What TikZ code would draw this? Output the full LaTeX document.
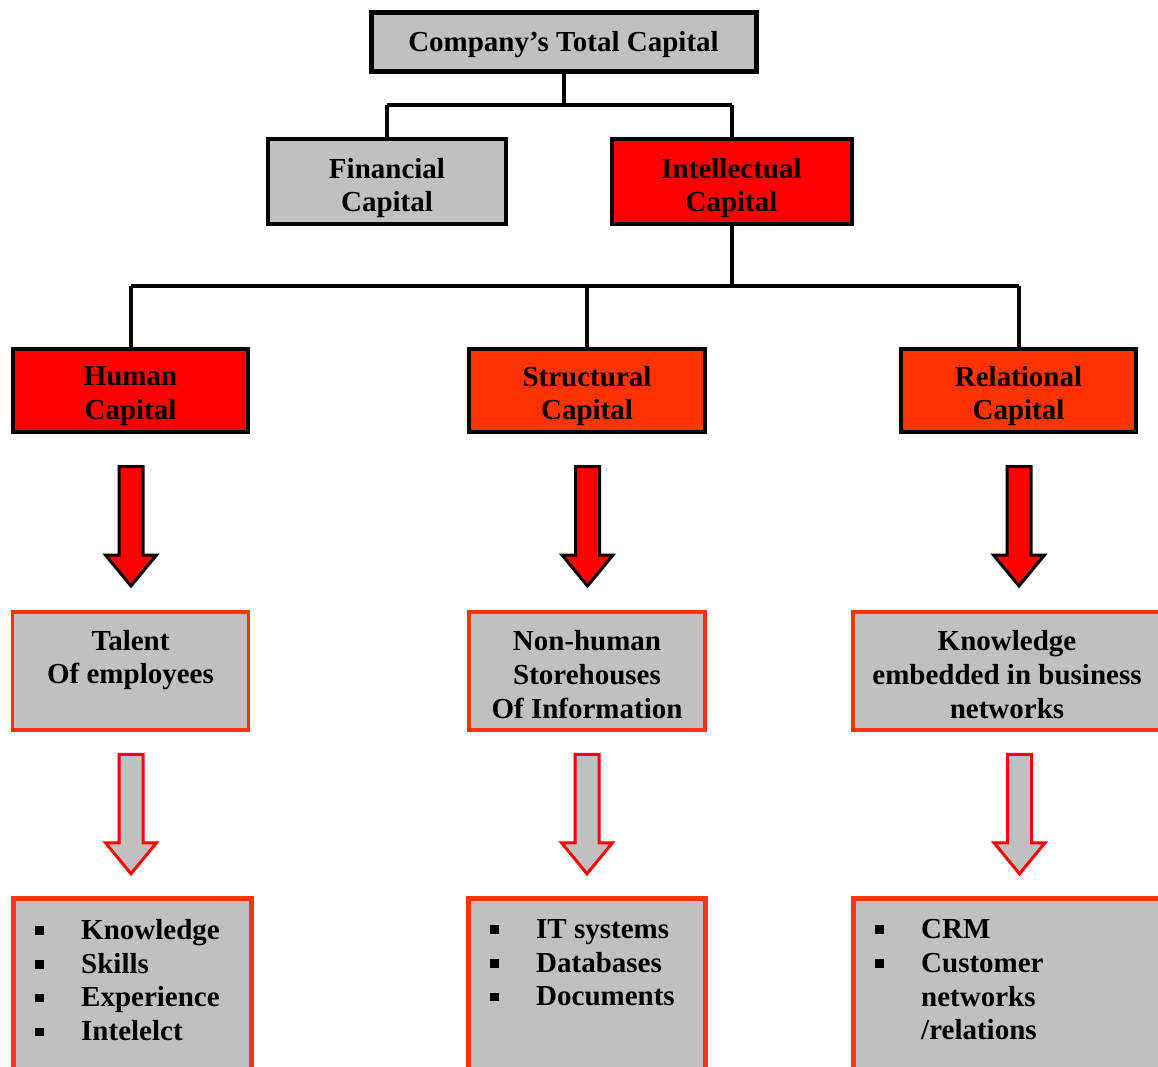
\documentclass[tikz,border=0pt]{standalone}
\usepackage{fontspec}
\setmainfont{Liberation Serif}
\usetikzlibrary{calc}

\definecolor{capgray}{HTML}{C0C0C0}
\definecolor{capred}{HTML}{FF0000}
\definecolor{caporange}{HTML}{FF3300}

% square bullet and list lines
\newcommand{\sqbullet}{\rule[4.5pt]{8.5pt}{8.5pt}}
\newcommand{\itemline}[1]{\makebox[46pt][l]{\sqbullet}#1}
\newcommand{\contline}[1]{\makebox[46pt][l]{}#1}

\begin{document}
\begin{tikzpicture}[x=1pt,y=-1pt,
  every node/.style={font=\fontsize{29}{33.6}\selectfont\bfseries, inner sep=0pt, text=black},
  blackbox/.style={draw=black, rectangle, line width=4pt},
  graybox/.style={blackbox, fill=capgray},
  redbox/.style={blackbox, fill=capred},
  orangebox/.style={blackbox, fill=caporange},
  midbox/.style={rectangle, draw=caporange, fill=capgray, line width=3.5pt, minimum height=118pt},
  listbox/.style={rectangle, draw=caporange, fill=capgray, line width=5pt, minimum height=180pt},
  boxtext/.style={align=center},
  listtext/.style={align=left, anchor=north west, font=\fontsize{29}{33.8}\selectfont\bfseries},
  link/.style={draw=black, line width=4pt},
  pics/downarrow/.style={code={
    \path[pic actions] (-12,0) -- (12,0) -- (12,88.5) -- (25.5,88.5) -- (0,119.5)
      -- (-25.5,88.5) -- (-12,88.5) -- cycle;}},
  redarrow/.style={fill=capred, draw=black, line width=3pt, line join=miter},
  grayarrow/.style={fill=capgray, draw=capred, line width=3pt, line join=miter},
]
\useasboundingbox (0,0) rectangle (1158,1066);

% top level
\node[graybox, line width=5pt, minimum width=385pt, minimum height=59pt] (total) at (563.5,42) {};
\node[boxtext] (totalt) at ($(total.center)+(0,3)$) {Company’s Total Capital};

% second level
\node[graybox, minimum width=238pt, minimum height=85pt] (fin) at (387,181.5) {};
\node[redbox, minimum width=240pt, minimum height=85pt] (intel) at (731.5,181.5) {};
\node[boxtext] (fint) at ($(fin.center)+(0,6.5)$) {Financial\\Capital};
\node[boxtext] (intelt) at ($(intel.center)+(0,6.5)$) {Intellectual\\Capital};

% third level
\node[redbox, minimum width=235pt, minimum height=83pt] (hum) at (130.5,390.5) {};
\node[orangebox, minimum width=236pt, minimum height=83pt] (struc) at (587,390.5) {};
\node[orangebox, minimum width=235pt, minimum height=83pt] (rel) at (1018.5,390.5) {};
\node[boxtext] (humt) at ($(hum.center)+(0,5.5)$) {Human\\Capital};
\node[boxtext] (struct) at ($(struc.center)+(0,5.5)$) {Structural\\Capital};
\node[boxtext] (relt) at ($(rel.center)+(0,5.5)$) {Relational\\Capital};

% descriptions
\node[midbox, minimum width=236pt] (talent) at (130.5,671) {};
\node[midbox, minimum width=236pt] (nonhum) at (587,671) {};
\node[midbox, minimum width=308pt] (knowl) at (1007,671) {};
\node[boxtext] (talentt) at ($(talent.center)+(0,-11)$) {Talent\\Of employees};
\node[boxtext] (nonhumt) at ($(nonhum.center)+(0,3.5)$) {Non-human\\Storehouses\\Of Information};
\node[boxtext] (knowlt) at ($(knowl.center)+(0,3.5)$) {Knowledge\\embedded in business\\networks};

% item boxes
\node[listbox, minimum width=238pt] (hlist) at (132.5,988) {};
\node[listbox, minimum width=237pt] (slist) at (587,988) {};
\node[listbox, minimum width=307pt] (rlist) at (1007,988) {};

\node[listtext] (htext) at (35,919) {\itemline{Knowledge}\\\itemline{Skills}\\\itemline{Experience}\\\itemline{Intelelct}};
\node[listtext] (stext) at (490,919) {\itemline{IT systems}\\\itemline{Databases}\\\itemline{Documents}};
\node[listtext] (rtext) at (875,919) {\itemline{CRM}\\\itemline{Customer}\\\contline{networks}\\\contline{/relations}};

% tree connectors
\coordinate (j1) at (564,105);
\coordinate (j2) at (731.5,285.5);
\draw[link] (total.south -| j1) -- (j1);
\draw[link] (j1 -| fin.north) -- (fin.north);
\draw[link] (j1 -| intel.north) -- (intel.north);
\draw[link] (j1 -| fin.north) -- (j1 -| intel.north);
\draw[link] (intel.south) -- (j2);
\draw[link] (j2 -| hum.north) -- (j2 -| rel.north);
\draw[link] (j2 -| hum.north) -- (hum.north);
\draw[link] (j2 -| struc.north) -- (struc.north);
\draw[link] (j2 -| rel.north) -- (rel.north);

% block arrows
\pic[redarrow] at ($(hum.south)+(0.5,32.5)$) {downarrow};
\pic[redarrow] at ($(struc.south)+(0.5,32.5)$) {downarrow};
\pic[redarrow] at ($(rel.south)+(0.5,32.5)$) {downarrow};
\pic[grayarrow] at ($(talent.south)+(0.5,22.5)$) {downarrow};
\pic[grayarrow] at ($(nonhum.south)+(0,22.5)$) {downarrow};
\pic[grayarrow] at ($(knowl.south -| rel.south)+(1,22.5)$) {downarrow};
\end{tikzpicture}
\end{document}
